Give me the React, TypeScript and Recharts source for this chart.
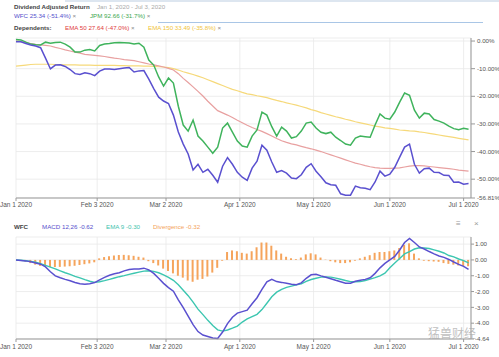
import React from "react";
import { ComposedChart, LineChart, Line, Bar, XAxis, YAxis, CartesianGrid } from "recharts";

// calendar days since Jan 1 2020
const DAYS = [0,2,4,6,8,10,12,14,16,18,20,22,24,26,28,30,32,34,36,38,40,42,44,46,48,50,52,54,56,58,60,62,64,66,68,70,72,74,76,78,80,82,84,86,88,90,92,94,96,98,100,102,104,106,108,110,112,114,116,118,120,122,124,126,128,130,132,134,136,138,140,142,144,146,148,150,152,154,156,158,160,162,164,166,168,170,172,174,176,178,180,182,184];

const WFC = [-0.3,-0.3,-0.9,-1.4,-1.8,-2.4,-6.2,-10.1,-8.7,-8.6,-9.2,-10.3,-11.8,-12.1,-11.5,-11.8,-12.5,-10.9,-10.1,-10.1,-10.3,-10.0,-9.8,-9.6,-11.2,-10.8,-10.7,-13.8,-17.2,-20.3,-21.7,-22.6,-26.8,-32.9,-37.3,-40.9,-46.7,-44.6,-47.5,-46.4,-48.6,-51.1,-45.3,-42.2,-44.6,-47.5,-49.3,-50.4,-46.0,-43.5,-37.7,-39.5,-43.8,-47.5,-46.9,-47.8,-49.6,-49.8,-48.4,-45.7,-44.4,-47.1,-49.1,-51.3,-52.0,-52.2,-55.3,-55.8,-55.8,-52.5,-53.1,-53.3,-53.8,-51.0,-47.1,-48.9,-48.2,-45.7,-42.0,-38.4,-37.3,-44.6,-47.8,-46.2,-46.0,-47.5,-47.6,-48.6,-48.7,-51.1,-51.0,-51.8,-51.6];

const JPM = [0.6,0.4,-0.4,-1.1,-1.3,-1.4,-0.4,-0.8,-0.5,-0.4,-1.1,-2.2,-4.0,-4.0,-3.3,-3.1,-3.6,-1.6,-1.1,-0.9,-0.6,-0.5,-0.6,-0.7,-1.1,-0.8,-2.2,-6.9,-8.7,-13.0,-16.3,-13.4,-15.2,-23.6,-30.4,-32.6,-28.6,-34.4,-36.2,-38.4,-40.6,-38.4,-31.5,-29.7,-33.0,-36.2,-38.0,-38.4,-34.4,-32.2,-25.7,-26.8,-31.0,-34.4,-31.2,-32.6,-35.1,-34.6,-32.6,-29.7,-29.3,-31.5,-33.0,-33.5,-33.0,-34.8,-36.0,-37.3,-37.7,-35.1,-34.4,-34.6,-34.8,-30.4,-26.4,-27.9,-28.3,-25.7,-22.1,-18.8,-19.6,-25.0,-27.9,-26.1,-26.4,-28.4,-29.0,-29.7,-30.8,-31.7,-32.1,-31.6,-31.9];

const EMA50 = [0.1,-0.2,-0.5,-0.9,-1.2,-1.4,-1.6,-1.8,-2.3,-2.7,-3.2,-3.6,-4.0,-4.4,-4.8,-5.0,-5.2,-5.4,-5.6,-5.9,-6.2,-6.4,-6.7,-6.9,-7.1,-7.5,-7.9,-8.3,-8.6,-9.0,-9.4,-9.9,-10.5,-11.8,-13.5,-15.0,-16.6,-18.2,-19.9,-21.8,-23.5,-25.2,-26.0,-26.8,-27.7,-28.7,-29.6,-30.5,-31.3,-32.0,-32.7,-33.5,-34.4,-35.3,-36.1,-36.7,-37.2,-37.6,-38.1,-38.6,-39.0,-39.5,-40.0,-40.6,-41.2,-41.8,-42.4,-43.0,-43.6,-44.2,-44.6,-45.1,-45.5,-45.8,-46.0,-46.1,-46.1,-46.0,-45.9,-45.6,-45.3,-45.1,-45.1,-45.2,-45.4,-45.6,-45.8,-46.0,-46.2,-46.4,-46.7,-46.9,-47.1];

const EMA150 = [-9.1,-8.9,-8.7,-8.5,-8.4,-8.4,-8.4,-8.4,-8.5,-8.5,-8.6,-8.6,-8.6,-8.7,-8.7,-8.7,-8.8,-8.8,-8.8,-8.8,-8.8,-8.9,-8.9,-9.0,-9.0,-9.0,-9.1,-9.1,-9.2,-9.3,-9.4,-9.6,-10.0,-10.5,-11.1,-11.6,-12.1,-12.7,-13.3,-14.0,-14.7,-15.4,-16.1,-16.8,-17.5,-18.0,-18.6,-19.1,-19.4,-19.8,-20.1,-20.5,-21.0,-21.5,-21.9,-22.4,-22.8,-23.2,-23.7,-24.2,-24.8,-25.3,-25.9,-26.4,-26.9,-27.4,-27.8,-28.3,-28.7,-29.2,-29.6,-30.0,-30.4,-30.8,-31.1,-31.4,-31.6,-31.9,-32.2,-32.3,-32.5,-32.6,-32.9,-33.1,-33.4,-33.7,-34.0,-34.3,-34.6,-34.9,-35.2,-35.5,-35.8];

const MACD = [0,-0.03,-0.06,-0.11,-0.19,-0.27,-0.44,-0.75,-1.01,-1.13,-1.23,-1.32,-1.43,-1.51,-1.53,-1.5,-1.43,-1.26,-1.1,-0.97,-0.88,-0.81,-0.69,-0.6,-0.58,-0.58,-0.52,-0.63,-0.85,-1.16,-1.48,-1.75,-1.98,-2.52,-3.02,-3.55,-4.09,-4.53,-4.75,-4.84,-4.94,-4.97,-4.56,-4.03,-3.62,-3.36,-3.27,-3.18,-2.77,-2.39,-1.86,-1.38,-1.23,-1.37,-1.42,-1.48,-1.54,-1.57,-1.45,-1.16,-0.94,-0.91,-1.01,-1.1,-1.19,-1.29,-1.38,-1.47,-1.47,-1.35,-1.28,-1.23,-1.13,-0.85,-0.5,-0.22,0,0.22,0.63,1.1,1.36,1.1,0.82,0.69,0.53,0.38,0.25,0.16,0.03,-0.13,-0.28,-0.41,-0.6];

const EMA9 = [0,-0.02,-0.05,-0.09,-0.14,-0.24,-0.35,-0.46,-0.57,-0.69,-0.81,-0.91,-1.04,-1.14,-1.25,-1.35,-1.42,-1.38,-1.31,-1.23,-1.14,-1.06,-0.99,-0.91,-0.84,-0.77,-0.71,-0.68,-0.72,-0.81,-0.94,-1.1,-1.29,-1.57,-1.92,-2.26,-2.67,-3.11,-3.46,-3.82,-4.15,-4.42,-4.5,-4.43,-4.31,-4.18,-3.93,-3.73,-3.58,-3.44,-3.14,-2.74,-2.33,-2.04,-1.86,-1.74,-1.66,-1.58,-1.51,-1.36,-1.24,-1.16,-1.09,-1.08,-1.09,-1.15,-1.22,-1.3,-1.37,-1.38,-1.37,-1.3,-1.21,-1.12,-1.01,-0.84,-0.5,-0.19,0.09,0.38,0.52,0.69,0.77,0.75,0.72,0.64,0.55,0.44,0.28,0.19,0.06,-0.04,-0.19];

const DIVERGENCE = [0,-0.05,-0.1,-0.2,-0.3,-0.38,-0.42,-0.45,-0.45,-0.44,-0.42,-0.4,-0.37,-0.32,-0.27,-0.22,-0.15,0.1,0.18,0.24,0.28,0.31,0.32,0.3,0.26,0.2,0.15,-0.08,-0.2,-0.35,-0.55,-0.7,-0.85,-1.0,-1.12,-1.3,-1.38,-1.25,-1.2,-1.05,-0.8,-0.5,-0.05,0.5,0.6,0.55,0.45,0.4,0.55,0.8,1.1,1.1,0.9,0.6,0.4,0.2,0.1,0.05,0.15,0.35,0.42,0.35,0.15,0.02,-0.08,-0.15,-0.2,-0.2,-0.15,-0.05,0.1,0.2,0.3,0.45,0.5,0.5,0.55,0.6,0.75,0.95,1.05,0.4,0.1,-0.05,-0.08,-0.1,-0.12,-0.2,-0.25,-0.3,-0.35,-0.38,-0.4];

const X_TICKS = [0, 33, 61, 91, 121, 152, 182];
const X_LABELS = ["Jan 1 2020", "Feb 3 2020", "Mar 2 2020", "Apr 1 2020", "May 1 2020", "Jun 1 2020", "Jul 1 2020"];
const PCT_TICKS = [0, -10, -20, -30, -40, -50, -56.81];
const PCT_LABELS = ["0.00%", "-10.00%", "-20.00%", "-30.00%", "-40.00%", "-50.00%", "-56.81%"];
const MACD_TICKS = [1, 0, -1, -2, -3, -4, -5];
const MACD_LABELS = ["1.00", "0.00", "-1.00", "-2.00", "-3.00", "-4.00", "-4.64"];

const topData = DAYS.map((d, i) => ({ day: d, wfc: WFC[i], jpm: JPM[i], ema50: EMA50[i], ema150: EMA150[i] }));
const macdData = DAYS.map((d, i) => ({ day: d, macd: MACD[i], ema9: EMA9[i], div: DIVERGENCE[i] }));

const FONT = "'Liberation Sans', Arial, sans-serif";
const xFmt = (v: number) => X_LABELS[X_TICKS.indexOf(v)] ?? "";
const pctFmt = (v: number) => PCT_LABELS[PCT_TICKS.indexOf(v)] ?? "";
const macdFmt = (v: number) => MACD_LABELS[MACD_TICKS.indexOf(v)] ?? "";

const tickStyle = { fontSize: 6.5, fill: "#555", fontFamily: FONT };

const T = (props: { x: number; y: number; color: string; bold?: boolean; size?: number; children: React.ReactNode }) => (
  <div
    style={{
      position: "absolute",
      left: props.x,
      top: props.y,
      color: props.color,
      fontWeight: props.bold ? 700 : 400,
      fontSize: props.size ?? 6.2,
      lineHeight: "8px",
      whiteSpace: "nowrap",
      fontFamily: FONT,
    }}
  >
    {props.children}
  </div>
);

const X = "\u00d7";

export default function App() {
  return (
    <div style={{ position: "absolute", left: 0, top: 0, width: 499, height: 357, background: "#fff", overflow: "hidden", fontFamily: FONT }}>
      <div style={{ position: "absolute", left: 65, top: 0, width: 434, height: 2, background: "#dde6f0" }} />
      <div style={{ position: "absolute", left: 158, top: 22, width: 325, height: 1, background: "#a9c6e6" }} />

      <T x={14} y={3} color="#444" bold>Dividend Adjusted Return</T>
      <T x={97} y={3} color="#aaa">Jan 1, 2020 - Jul 3, 2020</T>
      <T x={14} y={12} color="#5650cc">WFC 25.34 (-51.4%) <span style={{ color: "#888" }}>{X}</span></T>
      <T x={90} y={12} color="#3aa84f">JPM 92.66 (-31.7%) <span style={{ color: "#888" }}>{X}</span></T>
      <T x={14} y={24} color="#444" bold>Dependents:</T>
      <T x={65} y={24} color="#e03c3c">EMA 50 27.64 (-47.0%) <span style={{ color: "#888" }}>{X}</span></T>
      <T x={148} y={24} color="#f0c43a">EMA 150 33.49 (-35.8%) <span style={{ color: "#888" }}>{X}</span></T>

      <div style={{ position: "absolute", left: 0, top: 0 }}>
        <LineChart width={499} height={212} data={topData} margin={{ top: 38, right: 0, left: 16, bottom: 0 }}>
          <CartesianGrid stroke="#e8e8e8" strokeWidth={0.8} />
          <XAxis
            dataKey="day"
            type="number"
            domain={[0, 185]}
            ticks={X_TICKS}
            tickFormatter={xFmt}
            height={14}
            tick={tickStyle}
            tickSize={3}
            tickMargin={1}
            stroke="#999"
            interval={0}
          />
          <YAxis
            orientation="right"
            type="number"
            domain={[-56.81, 1.1]}
            ticks={PCT_TICKS}
            tickFormatter={pctFmt}
            width={28}
            tick={{ ...tickStyle, fontSize: 6.2 }}
            tickSize={4}
            tickMargin={2}
            stroke="#999"
            interval={0}
          />
          <Line dataKey="ema150" stroke="#f6d97a" strokeWidth={1.2} dot={false} isAnimationActive={false} />
          <Line dataKey="ema50" stroke="#e8a0a0" strokeWidth={1.2} dot={false} isAnimationActive={false} />
          <Line dataKey="jpm" stroke="#3fb35c" strokeWidth={1.5} dot={false} isAnimationActive={false} />
          <Line dataKey="wfc" stroke="#5a50cf" strokeWidth={1.5} dot={false} isAnimationActive={false} />
        </LineChart>
      </div>

      <T x={14} y={223} color="#444" bold>WFC</T>
      <T x={42} y={223} color="#5650cc">MACD 12,26 -0.62</T>
      <T x={106} y={223} color="#3fc3ae">EMA 9 -0.30</T>
      <T x={153} y={223} color="#f3a25a">Divergence -0.32</T>
      <T x={456} y={220} color="#999" size={8}>{"\u2261"}</T>
      <T x={474} y={220} color="#999" size={8}>{X}</T>

      <div style={{ position: "absolute", left: 0, top: 220 }}>
        <ComposedChart width={499} height={137} data={macdData} margin={{ top: 17, right: 0, left: 16, bottom: 4 }}>
          <CartesianGrid stroke="#e8e8e8" strokeWidth={0.8} />
          <XAxis
            dataKey="day"
            type="number"
            domain={[0, 185]}
            ticks={X_TICKS}
            tickFormatter={xFmt}
            height={14}
            tick={tickStyle}
            tickSize={3}
            tickMargin={2}
            stroke="#999"
            interval={0}
          />
          <YAxis
            orientation="right"
            type="number"
            domain={[-5, 1.45]}
            ticks={MACD_TICKS}
            tickFormatter={macdFmt}
            width={28}
            tick={{ ...tickStyle, fontSize: 6.2 }}
            tickSize={3}
            tickMargin={1}
            stroke="#999"
            interval={0}
          />
          <Bar dataKey="div" fill="#f5a45c" barSize={2} isAnimationActive={false} />
          <Line dataKey="ema9" stroke="#3cc6b0" strokeWidth={1.4} dot={false} isAnimationActive={false} />
          <Line dataKey="macd" stroke="#5a50cf" strokeWidth={1.5} dot={false} isAnimationActive={false} />
        </ComposedChart>
      </div>

      <div
        style={{
          position: "absolute",
          left: 428,
          top: 326,
          fontSize: 12,
          color: "rgba(170,170,170,0.75)",
          fontFamily: "'Noto Sans CJK SC', sans-serif",
          whiteSpace: "nowrap",
          lineHeight: "14px",
        }}
      >
        猛兽财经
      </div>
    </div>
  );
}
